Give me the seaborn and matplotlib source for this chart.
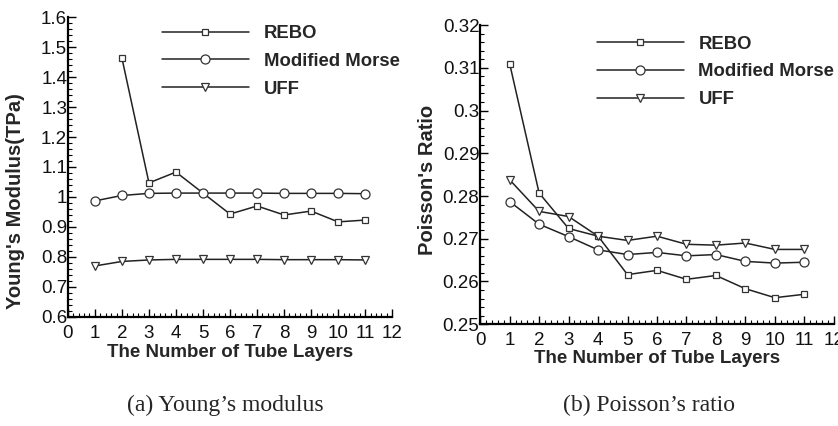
import matplotlib
matplotlib.use("Agg")
import matplotlib.pyplot as plt
from matplotlib.ticker import MultipleLocator, AutoMinorLocator
from matplotlib.lines import Line2D
import seaborn as sns
import pandas as pd

# ---- data ----
layers = [1, 2, 3, 4, 5, 6, 7, 8, 9, 10, 11]
rebo_x_ym = [2, 3, 4, 5, 6, 7, 8, 9, 10, 11]
rebo_ym = [1.463, 1.047, 1.083, 1.013, 0.943, 0.970, 0.940, 0.953, 0.917, 0.923]
morse_ym = [0.987, 1.005, 1.012, 1.013, 1.013, 1.013, 1.013, 1.012, 1.012, 1.012, 1.011]
uff_ym = [0.770, 0.785, 0.790, 0.792, 0.792, 0.792, 0.792, 0.791, 0.791, 0.791, 0.790]

rebo_pr = [0.3110, 0.2807, 0.2724, 0.2706, 0.2616, 0.2626, 0.2605, 0.2614, 0.2583, 0.2562, 0.2570]
morse_pr = [0.2787, 0.2734, 0.2705, 0.2674, 0.2663, 0.2668, 0.2660, 0.2663, 0.2647, 0.2643, 0.2645]
uff_pr = [0.2838, 0.2764, 0.2752, 0.2706, 0.2696, 0.2706, 0.2687, 0.2685, 0.2690, 0.2675, 0.2675]

series_names = ["REBO", "Modified Morse", "UFF"]
series_markers = ["s", "o", "v"]
msizes = [5, 6.5, 5.5]

sns.set_theme(style="ticks")
plt.rcParams["font.family"] = ["Liberation Sans", "DejaVu Sans"]

fig = plt.figure(figsize=(8.38, 4.26), dpi=100)
ax1 = fig.add_axes([0.081, 0.256, 0.387, 0.704])
ax2 = fig.add_axes([0.573, 0.239, 0.422, 0.702])

line_kw = dict(color="#222222", linewidth=1.1, markerfacecolor="white",
               markeredgecolor="#333333", markeredgewidth=0.9)

ym_sets = [(rebo_x_ym, rebo_ym), (layers, morse_ym), (layers, uff_ym)]
pr_sets = [(layers, rebo_pr), (layers, morse_pr), (layers, uff_pr)]

for ax, sets in ((ax1, ym_sets), (ax2, pr_sets)):
    for (xs, ys), name, mk, ms in zip(sets, series_names, series_markers, msizes):
        df = pd.DataFrame({"x": xs, "y": ys})
        sns.lineplot(data=df, x="x", y="y", ax=ax, marker=mk, markersize=ms,
                     **line_kw)

def style_axis(ax, ylim, ymajor, yfmt):
    ax.set_xlim(0, 12)
    ax.set_ylim(*ylim)
    ax.xaxis.set_major_locator(MultipleLocator(1))
    ax.xaxis.set_minor_locator(AutoMinorLocator(5))
    ax.yaxis.set_major_locator(MultipleLocator(ymajor))
    ax.yaxis.set_minor_locator(AutoMinorLocator(5))
    ax.yaxis.set_major_formatter(yfmt)
    ax.tick_params(which="major", direction="in", length=6, width=1.0,
                   labelsize=13.5, color="black", labelcolor="#111111")
    ax.tick_params(axis="x", which="major", pad=5.5)
    ax.tick_params(axis="y", which="major", pad=0.5)
    ax.tick_params(which="minor", direction="in", length=3, width=0.8, color="black")
    for s in ("top", "right"):
        ax.spines[s].set_visible(False)
    for s in ("left", "bottom"):
        ax.spines[s].set_linewidth(1.6)
        ax.spines[s].set_color("black")
    ax.set_facecolor("white")

def fmt_ym(v, pos):
    return "1" if abs(v - 1.0) < 1e-9 else f"{v:.1f}"

def fmt_pr(v, pos):
    s = f"{v:.2f}"
    if s.endswith("0"):
        s = s[:-1]
    return s

style_axis(ax1, (0.6, 1.6), 0.1, fmt_ym)
style_axis(ax2, (0.25, 0.32), 0.01, fmt_pr)

lab_kw = dict(fontsize=13.5, fontweight="bold")
ax1.set_xlabel("The Number of Tube Layers", labelpad=2, **lab_kw)
ax2.set_xlabel("The Number of Tube Layers", labelpad=1, **lab_kw)
ax1.set_ylabel("Young's Modulus(TPa)", fontsize=14.5, fontweight="bold")
ax2.set_ylabel("Poisson's Ratio", fontsize=14.5, fontweight="bold")
ax1.yaxis.set_label_coords((25 - 68) / 324, (317 - 201) / 300)
ax2.yaxis.set_label_coords((437 - 480.5) / 353.5, (324 - 180) / 299)

handles = [Line2D([0], [0], marker=mk, markersize=ms, **line_kw)
           for mk, ms in zip(series_markers, msizes)]
for ax, anchor in ((ax1, (0.29, 0.973)), (ax2, (0.33, 0.965))):
    ax.legend(handles, series_names, loc="upper left", bbox_to_anchor=anchor,
              frameon=False, borderpad=0, borderaxespad=0, handlelength=4.7,
              handletextpad=0.8, labelspacing=0.58, numpoints=1,
              prop={"family": "Liberation Sans", "weight": "bold", "size": 13.3})

fig.text(225 / 838, 1 - 405 / 426, "(a) Young\u2019s modulus", ha="center", va="center",
         fontsize=17, family="Liberation Serif")
fig.text(649 / 838, 1 - 405 / 426, "(b) Poisson\u2019s ratio", ha="center", va="center",
         fontsize=17, family="Liberation Serif")

fig.savefig("out.png", dpi=100, facecolor="white")
